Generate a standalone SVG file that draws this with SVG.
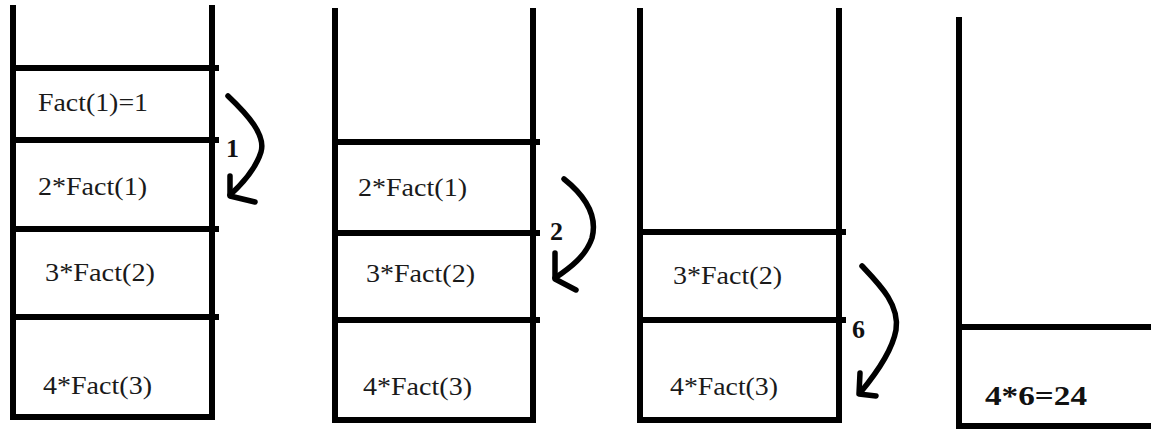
<svg xmlns="http://www.w3.org/2000/svg" width="1151" height="430" viewBox="0 0 1151 430">
  <style>
    .wall { stroke: #000; stroke-width: 6; fill: none; stroke-linecap: square; }
    .frame { font-size: 26px; fill: #1a1a1a; }
    .result { font-size: 27px; font-weight: bold; fill: #111; }
    .arrow { stroke: #000; stroke-width: 5.5; fill: none; stroke-linecap: round; stroke-linejoin: round; }
    .val { font-size: 26px; font-weight: bold; fill: #111; }
  </style>
  <rect width="1151" height="430" fill="#fff"/>

  <g font-family="Times New Roman, Liberation Serif, DejaVu Serif, serif">
  <!-- call stack with Fact(1) on top -->
  <g id="stack1">
    <path class="wall" d="M13,8 V417 H212 V8"/>
    <path class="wall" d="M13,68 H216 M13,140 H216 M13,229 H216 M13,317 H216"/>
    <text class="frame" x="38" y="111" textLength="110" lengthAdjust="spacingAndGlyphs">Fact(1)=1</text>
    <text class="frame" x="38" y="195" textLength="109" lengthAdjust="spacingAndGlyphs">2*Fact(1)</text>
    <text class="frame" x="45" y="281" textLength="110" lengthAdjust="spacingAndGlyphs">3*Fact(2)</text>
    <text class="frame" x="43" y="394" textLength="109" lengthAdjust="spacingAndGlyphs">4*Fact(3)</text>
  </g>

  <!-- after Fact(1) returns -->
  <g id="stack2">
    <path class="wall" d="M335,11 V420 H533 V11"/>
    <path class="wall" d="M335,142 H537 M335,233 H537 M335,320 H537"/>
    <text class="frame" x="358" y="196" textLength="109" lengthAdjust="spacingAndGlyphs">2*Fact(1)</text>
    <text class="frame" x="366" y="282" textLength="109" lengthAdjust="spacingAndGlyphs">3*Fact(2)</text>
    <text class="frame" x="363" y="395" textLength="109" lengthAdjust="spacingAndGlyphs">4*Fact(3)</text>
  </g>

  <!-- after Fact(2) returns -->
  <g id="stack3">
    <path class="wall" d="M640,11 V420 H839 V11"/>
    <path class="wall" d="M640,232 H843 M640,320 H843"/>
    <text class="frame" x="673" y="284" textLength="109" lengthAdjust="spacingAndGlyphs">3*Fact(2)</text>
    <text class="frame" x="670" y="395" textLength="108" lengthAdjust="spacingAndGlyphs">4*Fact(3)</text>
  </g>

  <!-- final result -->
  <g id="stack4">
    <path class="wall" d="M959,20 V426 H1151"/>
    <path class="wall" d="M959,327 H1151"/>
    <text class="result" x="985" y="405" textLength="102" lengthAdjust="spacingAndGlyphs">4*6=24</text>
  </g>

  <!-- return values passed down the stack -->
  <g id="connectors">
    <path class="arrow" d="M228,96 C248,115 266,135 261,152 C256,168 242,184 230,195"/>
    <path class="arrow" d="M230,176 L230,196 L255,202"/>
    <text class="val" x="226" y="157">1</text>

    <path class="arrow" d="M564,179 C584,195 598,215 592,238 C586,256 570,268 555,278"/>
    <path class="arrow" d="M555,253 L555,279 L576,290"/>
    <text class="val" x="550" y="240">2</text>

    <path class="arrow" d="M862,266 C880,285 900,305 896,330 C892,352 875,375 860,393"/>
    <path class="arrow" d="M860,373 L859,394 L876,396"/>
    <text class="val" x="852" y="338">6</text>
  </g>
  </g>
</svg>
